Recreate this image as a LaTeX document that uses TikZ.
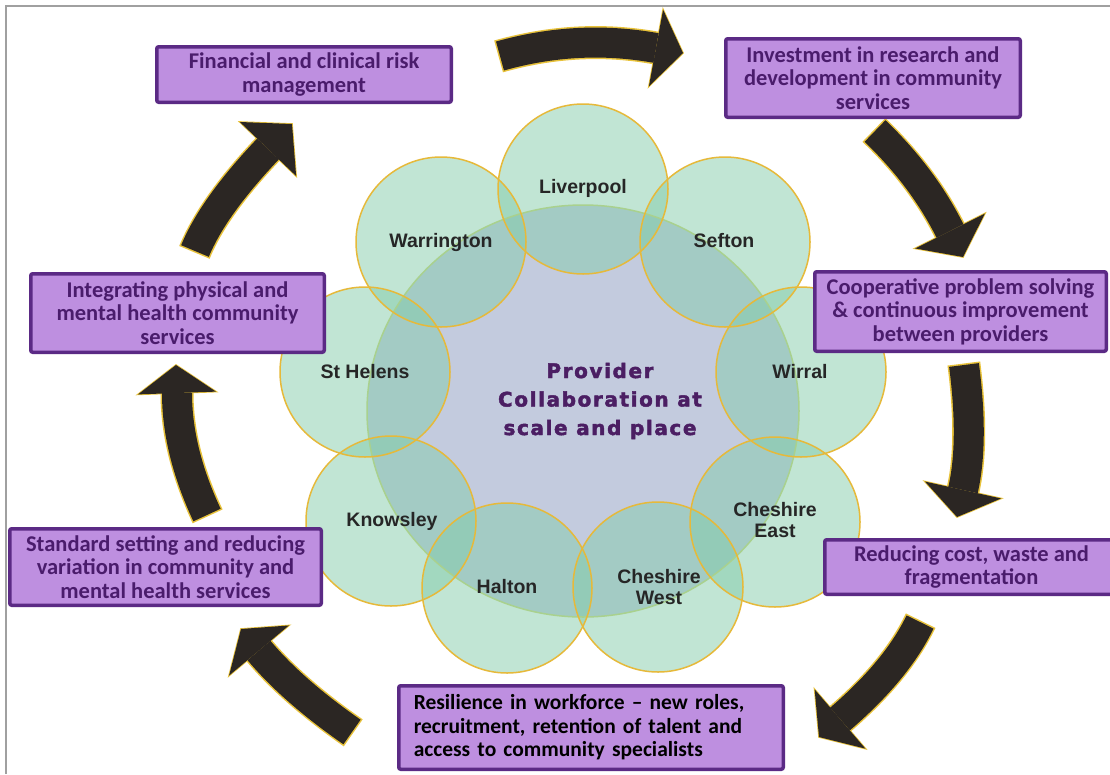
\documentclass[tikz,border=0pt]{standalone}
\usepackage{fontspec}
\usetikzlibrary{calc}
\newfontfamily\boxfont{Carlito}
\newfontfamily\lblfont{Liberation Sans}
\newfontfamily\ctrfont[LetterSpace=8,FakeBold=2.2]{DejaVu Sans Bold}
\definecolor{boxfill}{HTML}{BE8FE0}
\definecolor{boxline}{HTML}{5B2A85}
\definecolor{boxtext}{HTML}{4A1C6C}
\definecolor{arrowblack}{HTML}{2B2623}
\definecolor{arrowyellow}{HTML}{E8C23A}
\definecolor{ringgreen}{HTML}{85CCAB}
\definecolor{ringline}{HTML}{E6B93A}
\definecolor{hubfill}{HTML}{C3CBDE}
\definecolor{hubline}{HTML}{A9D18E}
\definecolor{lbltext}{HTML}{262626}
\definecolor{ctrtext}{HTML}{4B1E63}
\definecolor{framegray}{HTML}{A0A0A0}
\newcommand\cycarrow[4]{%
  \coordinate (q1) at ($#1!0.6667!#2$);
  \coordinate (q2) at ($#3!0.6667!#2$);
  \coordinate (h1) at ($#3!39pt!90:#4$);
  \coordinate (h2) at ($#3!39pt!-90:#4$);
  \draw[arrowyellow, line width=33pt, shorten <=-1.5pt] #1 .. controls (q1) and (q2) .. #3;
  \filldraw[fill=arrowblack, draw=arrowyellow, line width=1.6pt, line join=miter] (h1) -- #4 -- (h2) -- cycle;
  \draw[arrowblack, line width=30pt] #1 .. controls (q1) and (q2) .. #3;
  \fill[arrowblack] (h1) -- #4 -- (h2) -- cycle;
}
\begin{document}
\begin{tikzpicture}[x=1pt,y=-1pt,
  infobox/.style={draw=boxline, line width=3.5pt, fill=boxfill, rounded corners=2pt,
    inner sep=0pt, align=center, text=boxtext,
    font=\boxfont\bfseries\fontsize{22.5}{23.5}\selectfont},
  place/.style={font=\lblfont\bfseries\fontsize{19.5}{21}\selectfont, text=lbltext,
    align=center, inner sep=0pt},
  ringfill/.style={fill=ringgreen, fill opacity=0.5},
  ringdraw/.style={draw=ringline, line width=1.5pt}]
\useasboundingbox (0,0) rectangle (1110,774);
\fill[white] (0,0) rectangle (1110,774);
\draw[framegray, line width=2pt] (6,774) -- (6,6) -- (1110,6);

% hub
\fill[hubfill] (583,411) ellipse [x radius=216, y radius=206];
\foreach \p in {(583,189),(725,242),(801,372),(775,522),(658,587),(507,588),(391,521),(365,372),(441,242)}
  \fill[ringfill] \p circle [radius=85];
\draw[hubline, line width=1.5pt] (583,411) ellipse [x radius=216, y radius=206];
\foreach \p in {(583,189),(725,242),(801,372),(775,522),(658,587),(507,588),(391,521),(365,372),(441,242)}
  \draw[ringdraw] \p circle [radius=85];

\node[place] (liv) at (583,188) {Liverpool};
\node[place] (sef) at (724,241) {Sefton};
\node[place] (wir) at (800,372) {Wirral};
\node[place] (che) at (775,520) {Cheshire\\East};
\node[place] (chw) at (659,587) {Cheshire\\West};
\node[place] (hal) at (507,587) {Halton};
\node[place] (kno) at (392,521) {Knowsley};
\node[place] (sth) at (365,372) {St Helens};
\node[place] (war) at (441,242) {Warrington};

\node[font=\ctrfont\fontsize{20}{28.5}\selectfont, text=ctrtext, align=center, inner sep=0pt]
  (hub) at (600,401) {Provider\\Collaboration at\\scale and place};

% arrows
\cycarrow{(500,56)}{(578,34)}{(656,48)}{(683,53)}
\cycarrow{(875,131)}{(923,177)}{(950,231)}{(963,257)}
\cycarrow{(964,365)}{(974,442)}{(963,490)}{(957,517)}
\cycarrow{(920,622)}{(897,670)}{(840,719)}{(819,737)}
\cycarrow{(352,732)}{(293,691)}{(259,650.5)}{(241,629)}
\cycarrow{(207,515)}{(177,451)}{(177,393)}{(176,365)}
\cycarrow{(195,251)}{(213,207)}{(268,149)}{(292,124)}

% boxes
\node[infobox, minimum width=294.5, minimum height=55.5] (b1) at (304,74.5)
  {Financial and clinical risk\\management};
\node[infobox, minimum width=294.5, minimum height=78.5] (b2) at (873,78)
  {Investment in research and\\development in community\\services};
\node[infobox, minimum width=291.5, minimum height=79.5] (b3) at (960.5,311.5)
  {Cooperative problem solving\\\& continuous improvement\\between providers};
\node[infobox, minimum width=293.5, minimum height=54.5] (b4) at (971.5,567)
  {Reducing cost, waste and\\fragmentation};
\node[infobox, align=left, text=black, font=\boxfont\bfseries\fontsize{21.5}{23.5}\selectfont,
  text width=354.5, inner xsep=15, minimum height=83.5] (b5) at (591,727.5)
  {Resilience in workforce – new roles,\\recruitment, retention of talent and\\access to community specialists};
\node[infobox, minimum width=311.5, minimum height=76.5] (b6) at (165.5,567)
  {Standard setting and reducing\\variation in community and\\mental health services};
\node[infobox, minimum width=293.5, minimum height=78.5] (b7) at (177.5,313)
  {Integrating physical and\\mental health community\\services};
\end{tikzpicture}
\end{document}
